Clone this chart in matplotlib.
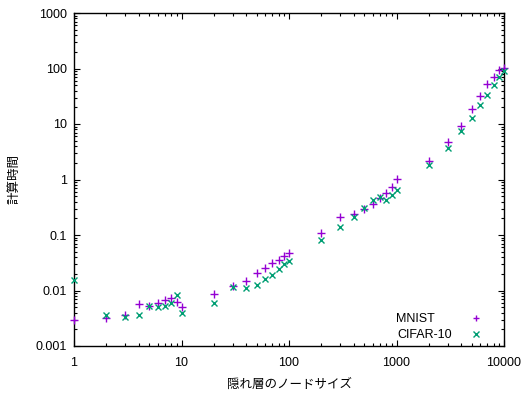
import numpy as np
import matplotlib
matplotlib.use("Agg")
import matplotlib.pyplot as plt
from matplotlib.ticker import LogLocator, FixedLocator, FixedFormatter, NullFormatter

plt.rcParams['font.family'] = ['Liberation Sans', 'Noto Sans CJK JP']

# 隠れ層のノードサイズ
nodes_mnist = [1, 2, 3, 4, 5, 6, 7, 8, 9, 10,
               20, 30, 40, 50, 60, 70, 80, 90, 100,
               200, 300, 400, 500, 600, 700, 800, 900, 1000,
               2000, 3000, 4000, 5000, 6000, 7000, 8000, 9000, 10000]
time_mnist = [0.0029, 0.0032, 0.0036, 0.0057, 0.0053, 0.0059, 0.0067, 0.0072, 0.0063, 0.0051,
              0.0085, 0.0120, 0.0148, 0.0209, 0.0254, 0.0317, 0.035, 0.042, 0.048,
              0.107, 0.208, 0.239, 0.294, 0.366, 0.458, 0.579, 0.733, 1.01,
              2.15, 4.68, 9.2, 18.6, 32.0, 52.6, 71.3, 94.0, 103.5]

nodes_cifar = nodes_mnist
time_cifar = [0.0155, 0.0036, 0.0033, 0.0036, 0.0053, 0.0050, 0.0053, 0.0059, 0.0083, 0.0040,
              0.0060, 0.0114, 0.0111, 0.0124, 0.0159, 0.0188, 0.0247, 0.0296, 0.034,
              0.081, 0.137, 0.214, 0.31, 0.427, 0.49, 0.427, 0.519, 0.647,
              1.82, 3.75, 7.48, 12.8, 22.3, 33.7, 50.4, 71.0, 90.0]

xticks = [1, 10, 100, 1000, 10000]
xlabels = ["1", "10", "100", "1000", "10000"]
yticks = [0.001, 0.01, 0.1, 1, 10, 100, 1000]
ylabels = ["0.001", "0.01", "0.1", "1", "10", "100", "1000"]

fig = plt.figure(figsize=(5.25, 3.94), dpi=100)
ax = fig.add_axes([74 / 525, 48 / 394, 430 / 525, 333 / 394])

ax.plot(nodes_mnist, time_mnist, linestyle="none", marker="+", color="#9400d3",
        markersize=6, markeredgewidth=1.0, label="MNIST     ", clip_on=False, zorder=3)
ax.plot(nodes_cifar, time_cifar, linestyle="none", marker="x", color="#009e73",
        markersize=5, markeredgewidth=1.0, label="CIFAR-10", clip_on=False, zorder=3)

ax.set_xscale("log")
ax.set_yscale("log")
ax.set_xlim(1, 10000)
ax.set_ylim(0.001, 1000)

ax.xaxis.set_major_locator(FixedLocator(xticks))
ax.xaxis.set_major_formatter(FixedFormatter(xlabels))
ax.yaxis.set_major_locator(FixedLocator(yticks))
ax.yaxis.set_major_formatter(FixedFormatter(ylabels))
ax.xaxis.set_minor_locator(LogLocator(base=10, subs=np.arange(2, 10), numticks=20))
ax.yaxis.set_minor_locator(LogLocator(base=10, subs=np.arange(2, 10), numticks=20))
ax.xaxis.set_minor_formatter(NullFormatter())
ax.yaxis.set_minor_formatter(NullFormatter())

ax.tick_params(which="both", direction="in", top=True, right=True, labelsize=9,
               width=0.8, color="black")
ax.tick_params(which="major", length=4)
ax.tick_params(which="minor", length=2)
ax.tick_params(axis="x", which="major", pad=8)
ax.tick_params(axis="y", which="major", pad=5)
for s in ax.spines.values():
    s.set_linewidth(1.0)

ax.set_xlabel("隠れ層のノードサイズ", fontsize=9, labelpad=7)
ax.set_ylabel("計算時間", fontsize=9, labelpad=11)

ax.legend(loc="lower right", frameon=False, markerfirst=False, fontsize=9,
          handlelength=1.0, handletextpad=1.4, labelspacing=0.35, markerscale=0.75,
          bbox_to_anchor=(0.975, -0.02))

fig.savefig("out.png", dpi=100)
